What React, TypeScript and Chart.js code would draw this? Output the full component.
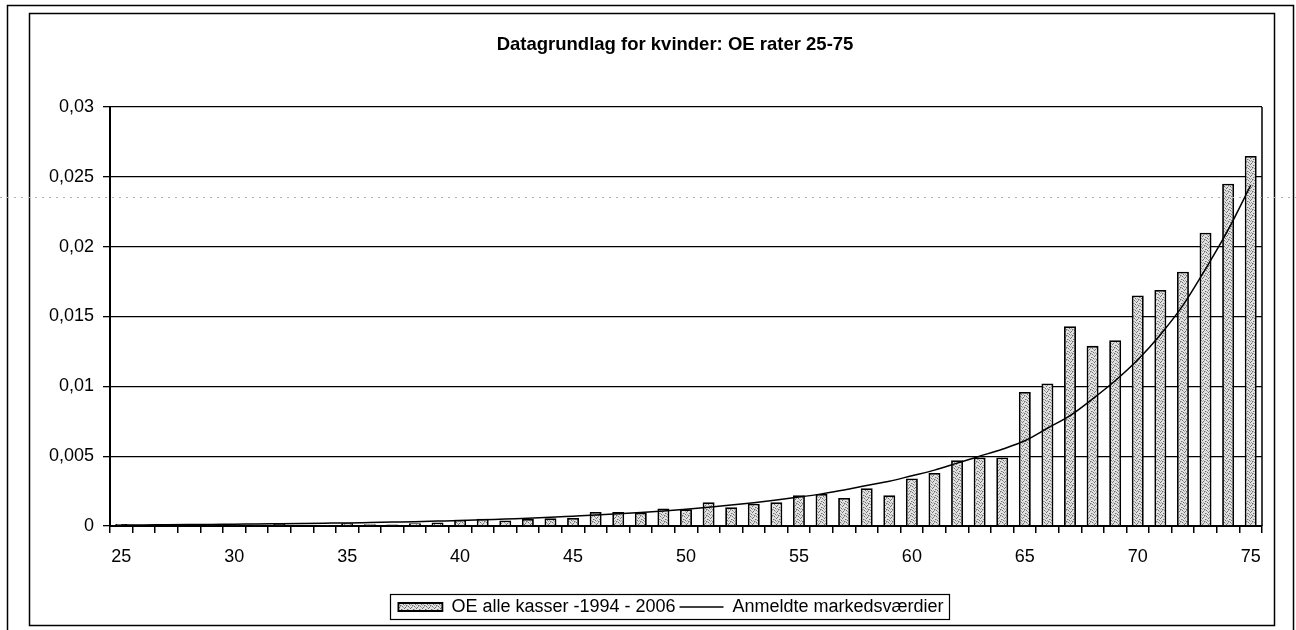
import { useEffect, useRef } from "react";
import { Chart, registerables } from "chart.js";

Chart.register(...registerables);

const ages = [
  "25", "26", "27", "28", "29", "30", "31", "32", "33", "34",
  "35", "36", "37", "38", "39", "40", "41", "42", "43", "44",
  "45", "46", "47", "48", "49", "50", "51", "52", "53", "54",
  "55", "56", "57", "58", "59", "60", "61", "62", "63", "64",
  "65", "66", "67", "68", "69", "70", "71", "72", "73", "74", "75",
];

const oeRates = [
  0.00015, 0.00006, 0.00012, 0.00005, 0.00004, 0.00008, 0.00008, 0.00014, 0.00006, 0.00008,
  0.0002, 0.00013, 0.0001, 0.0002, 0.00025, 0.00045, 0.00052, 0.0004, 0.0005, 0.00055,
  0.00058, 0.001, 0.001, 0.00095, 0.00125, 0.0012, 0.0017, 0.00135, 0.0016, 0.0017,
  0.0022, 0.0023, 0.002, 0.0027, 0.0022, 0.0034, 0.0038, 0.0047, 0.0049, 0.0049,
  0.0096, 0.0102, 0.0143, 0.0129, 0.0133, 0.0165, 0.0169, 0.0182, 0.021, 0.0245, 0.0265,
];

const marketValues = [
  0.00007, 0.00008, 0.00009, 0.0001, 0.00011, 0.00013, 0.00014, 0.00016, 0.00018, 0.0002,
  0.00022, 0.00025, 0.00028, 0.00031, 0.00035, 0.00039, 0.00044, 0.0005, 0.00055, 0.00062,
  0.0007, 0.00078, 0.00087, 0.00097, 0.00108, 0.0012, 0.00134, 0.0015, 0.00167, 0.00186,
  0.00207, 0.0023, 0.00257, 0.0029, 0.0032, 0.0036, 0.004, 0.0045, 0.005, 0.0055,
  0.0061, 0.007, 0.0079, 0.0091, 0.0104, 0.0119, 0.0137, 0.0158, 0.0184, 0.0212, 0.0244,
];

const yTickLabels = ["0", "0,005", "0,01", "0,015", "0,02", "0,025", "0,03"];

const titleText = "Datagrundlag for kvinder: OE rater 25-75";
const barLabel = "OE alle kasser -1994 - 2006";
const lineLabel = "Anmeldte markedsværdier";

const FONT = "'Liberation Sans', Arial, sans-serif";

function makePattern(): CanvasPattern | string {
  const c = document.createElement("canvas");
  c.width = 6;
  c.height = 6;
  const g = c.getContext("2d");
  if (!g) return "#cfcfcf";
  g.fillStyle = "#e2e2e2";
  g.fillRect(0, 0, 6, 6);
  const dark: [number, number][] = [[0, 0], [3, 1], [5, 3], [1, 4], [4, 5], [2, 2]];
  const mid: [number, number][] = [[1, 1], [4, 0], [0, 3], [3, 4], [5, 5], [2, 5]];
  g.fillStyle = "#6e6e6e";
  dark.forEach(([x, y]) => g.fillRect(x, y, 1, 1));
  g.fillStyle = "#a8a8a8";
  mid.forEach(([x, y]) => g.fillRect(x, y, 1, 1));
  const p = g.createPattern(c, "repeat");
  return p || "#cfcfcf";
}

const framePlugin = {
  id: "frames",
  afterLayout(chart: any) {
    const t = chart.titleBlock;
    if (t) {
      t.left += 24;
      t.right += 24;
    }
    const lg = chart.legend;
    if (lg) {
      lg.left += 20;
      lg.right += 20;
    }
  },
  beforeDraw(chart: any) {
    const ctx = chart.ctx;
    ctx.save();
    ctx.fillStyle = "#ffffff";
    ctx.fillRect(0, 0, chart.width, chart.height);
    ctx.strokeStyle = "#000";
    ctx.lineWidth = 1.5;
    ctx.strokeRect(7.5, 5.5, 1286, 640);
    ctx.strokeRect(29.5, 13.5, 1245, 612);
    ctx.restore();
  },
  afterDraw(chart: any) {
    const ctx = chart.ctx;
    const a = chart.chartArea;
    ctx.save();
    ctx.strokeStyle = "#000";
    ctx.lineWidth = 1.5;
    ctx.beginPath();
    ctx.moveTo(a.right, a.top);
    ctx.lineTo(a.right, a.bottom);
    ctx.stroke();
    const lg = chart.legend;
    if (lg && lg.legendHitBoxes && lg.legendHitBoxes.length) {
      let l = Infinity, r = -Infinity, t = Infinity, b = -Infinity;
      lg.legendHitBoxes.forEach((h: any) => {
        l = Math.min(l, h.left);
        r = Math.max(r, h.left + h.width);
        t = Math.min(t, h.top);
        b = Math.max(b, h.top + h.height);
      });
      ctx.lineWidth = 1.2;
      ctx.strokeRect(Math.round(l - 8) + 0.5, Math.round(t - 4) + 0.5, Math.round(r - l + 14), Math.round(b - t + 7));
    }
    ctx.strokeStyle = "#b0b0b0";
    ctx.lineWidth = 1;
    ctx.setLineDash([2, 5]);
    ctx.beginPath();
    ctx.moveTo(0, 197.5);
    ctx.lineTo(chart.width, 197.5);
    ctx.stroke();
    ctx.restore();
  },
};

export default function App() {
  const ref = useRef<HTMLCanvasElement | null>(null);

  useEffect(() => {
    if (!ref.current) return;
    const pattern = makePattern();
    const chart = new Chart(ref.current, {
      type: "bar",
      data: {
        labels: ages,
        datasets: [
          {
            type: "bar",
            label: barLabel,
            data: oeRates,
            backgroundColor: pattern as any,
            borderColor: "#000",
            borderWidth: 1.8,
            barPercentage: 0.53,
            categoryPercentage: 1,
            order: 2,
            pointStyle: "rect",
          } as any,
          {
            type: "line",
            label: lineLabel,
            data: marketValues,
            borderColor: "#000",
            backgroundColor: "#000",
            borderWidth: 1.5,
            pointRadius: 0,
            fill: false,
            cubicInterpolationMode: "monotone",
            order: 1,
            pointStyle: "line",
          } as any,
        ],
      },
      options: {
        animation: false,
        responsive: false,
        maintainAspectRatio: false,
        layout: { padding: { left: 40, right: 34, top: 0, bottom: 4 } },
        plugins: {
          title: {
            display: true,
            text: titleText,
            color: "#000",
            font: { family: FONT, size: 18.5, weight: "bold" },
            padding: { top: 34, bottom: 50.8 },
          },
          legend: {
            position: "bottom",
            labels: {
              usePointStyle: true,
              pointStyleWidth: 44,
              boxHeight: 8,
              color: "#000",
              font: { family: FONT, size: 18 },
              padding: 4,
              sort: (a: any, b: any) => a.datasetIndex - b.datasetIndex,
            },
          },
          tooltip: { enabled: false },
        },
        scales: {
          x: {
            grid: { display: true, drawOnChartArea: false, color: "#000", lineWidth: 1.5, tickLength: 7, offset: true },
            border: { color: "#000", width: 2 },
            ticks: {
              autoSkip: false,
              maxRotation: 0,
              minRotation: 0,
              color: "#000",
              font: { family: FONT, size: 18 },
              padding: 13,
              callback: (_v: any, i: number) => (i % 5 === 0 ? ages[i] : ""),
            },
            afterFit: (s: any) => {
              s.height = 68;
            },
          },
          y: {
            min: 0,
            max: 0.03,
            grid: { color: "#000", lineWidth: 1.3, tickLength: 7 },
            border: { color: "#000", width: 2 },
            ticks: {
              stepSize: 0.005,
              color: "#000",
              font: { family: FONT, size: 18 },
              padding: 9,
              callback: (v: any) => yTickLabels[Math.round(Number(v) / 0.005)],
            },
            afterFit: (s: any) => {
              s.width = 70;
            },
          },
        },
      },
      plugins: [framePlugin],
    });
    return () => chart.destroy();
  }, []);

  return (
    <div style={{ position: "absolute", left: 0, top: 0, width: 1296, height: 630 }}>
      <canvas ref={ref} width={1296} height={630} style={{ display: "block" }} />
    </div>
  );
}
